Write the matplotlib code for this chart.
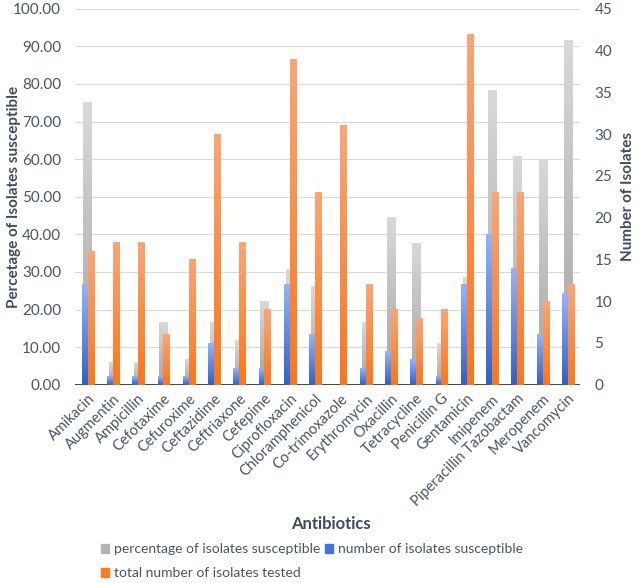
import numpy as np
import matplotlib
matplotlib.use('Agg')
from matplotlib import pyplot as plt
from matplotlib.colors import LinearSegmentedColormap
from matplotlib.patches import Patch

plt.rcParams['font.family'] = ['Lato', 'DejaVu Sans']

# data
antibiotics = ['Amikacin', 'Augmentin', 'Ampicillin', 'Cefotaxime', 'Cefuroxime',
               'Ceftazidime', 'Ceftriaxone', 'Cefepime', 'Ciprofloxacin',
               'Chloramphenicol', 'Co-trimoxazole', 'Erythromycin', 'Oxacillin',
               'Tetracycline', 'Penicillin G', 'Gentamicin', 'Imipenem',
               'Piperacillin Tazobactam', 'Meropenem', 'Vancomycin']
pct_susceptible = [75.00, 5.88, 5.88, 16.67, 6.67, 16.67, 11.76, 22.22, 30.77, 26.09,
                   0.00, 16.67, 44.44, 37.50, 11.11, 28.57, 78.26, 60.87, 60.00, 91.67]
n_susceptible = [12, 1, 1, 1, 1, 5, 2, 2, 12, 6, 0, 2, 4, 3, 1, 12, 18, 14, 6, 11]
n_tested = [16, 17, 17, 6, 15, 30, 17, 9, 39, 23, 31, 12, 9, 8, 9, 42, 23, 23, 10, 12]

text_col = '#4a5466'
title_col = '#3f4b5e'

fig = plt.figure(figsize=(6.4, 5.83), dpi=100)
ax = fig.add_axes([0.117, 0.34, 0.79, 0.645])
ax2 = ax.twinx()


def grad_bars(axis, xs, heights, width, c_top, c_bot, z):
    bars = axis.bar(xs, heights, width, color='none', edgecolor='none', zorder=z)
    grad = np.linspace(1, 0, 256).reshape(-1, 1)
    cmap = LinearSegmentedColormap.from_list('g', [c_bot, c_top])
    for b in bars:
        h = b.get_height()
        if h <= 0:
            continue
        x0 = b.get_x()
        axis.imshow(grad, cmap=cmap, extent=(x0, x0 + b.get_width(), 0, h),
                    aspect='auto', zorder=z, vmin=0, vmax=1, interpolation='bilinear')
    return bars


x = np.arange(len(antibiotics))
grad_bars(ax, x, pct_susceptible, 0.32, '#d9d9d9', '#a3a3a3', 2)
grad_bars(ax2, x - 0.11, n_susceptible, 0.24, '#94b4f7', '#2a62d3', 3)
grad_bars(ax2, x + 0.12, n_tested, 0.24, '#f9a676', '#ff7518', 3)

ax.set_xlim(-0.5, len(antibiotics) - 0.5)
ax2.set_xlim(-0.5, len(antibiotics) - 0.5)
ax.set_ylim(0, 100)
ax2.set_ylim(0, 45)

ax.set_yticks(np.arange(0, 101, 10))
ax.set_yticklabels(['%.2f' % v for v in np.arange(0, 101, 10)])
ax2.set_yticks(np.arange(0, 46, 5))
ax.grid(axis='y', color='#d9d9d9', lw=0.8, zorder=0)
ax.set_axisbelow(True)

for a in (ax, ax2):
    for s in ('top', 'left', 'right', 'bottom'):
        a.spines[s].set_visible(False)
    a.tick_params(length=0, labelsize=11, labelcolor=text_col)
ax.tick_params(axis='y', pad=10)
ax2.tick_params(axis='y', pad=10)
ax.axhline(0, color='#262626', lw=1.2, zorder=5)

ax.set_xticks(x)
ax.set_xticklabels(antibiotics, rotation=45, ha='right', rotation_mode='anchor',
                   fontsize=10.5, color=text_col)
ax.tick_params(axis='x', pad=5)

ax.set_ylabel('Percetage of Isolates susceptible', fontsize=11, fontweight='bold',
              color=title_col)
ax.yaxis.set_label_coords(-0.106, 0.5)
ax2.set_ylabel('Number of Isolates', fontsize=11, fontweight='bold',
               color=title_col, rotation=90)
ax2.yaxis.set_label_coords(1.08, 0.5)
fig.text(0.517, 0.093, 'Antibiotics', ha='center', fontsize=12, fontweight='bold',
         color=title_col)

handles = [Patch(color='#b3b3b3'), Patch(color='#ff7a20'), Patch(color='#3f73de')]
labels = ['percentage of isolates susceptible', 'total number of isolates tested',
          'number of isolates susceptible']
fig.legend(handles, labels, ncol=2, loc='upper left', bbox_to_anchor=(0.147, 0.08),
           frameon=False, fontsize=10, labelcolor=text_col, handlelength=0.6,
           handleheight=0.6, handletextpad=0.35, columnspacing=0.3, labelspacing=0.85,
           borderpad=0)

fig.savefig('out.png', dpi=100)
